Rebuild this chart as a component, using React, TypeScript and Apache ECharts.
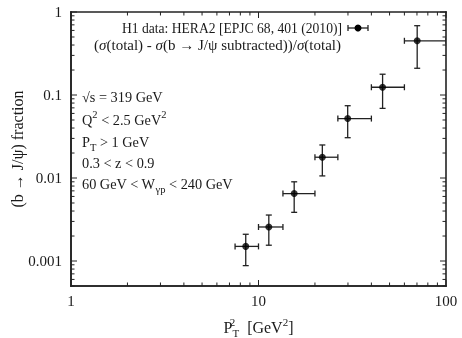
import { useEffect, useRef } from 'react';
import * as echarts from 'echarts';

// Axis ranges (log–log)
const X_MIN = 1;
const X_MAX = 100;
const Y_MIN = 0.0005;
const Y_MAX = 1;

// H1 measurement: P_T^2 bins, bin centres and fraction with its uncertainty band
const PT2_LOW = [7.5, 10, 13.5, 20, 26.5, 40, 60];
const PT2_HIGH = [10, 13.5, 20, 26.5, 40, 60, 100];
const PT2_CENTER = [8.55, 11.35, 15.5, 21.9, 29.9, 45.9, 70.2];
const FRACTION = [0.0015, 0.00257, 0.0065, 0.0178, 0.052, 0.124, 0.45];
const FRACTION_LOW = [0.00088, 0.00155, 0.00386, 0.0106, 0.0306, 0.069, 0.21];
const FRACTION_HIGH = [0.0021, 0.00358, 0.009, 0.025, 0.0743, 0.178, 0.684];

// Decades used for major / minor tick marks
const X_DECADES = [1, 10];
const Y_DECADES = [0.0001, 0.001, 0.01, 0.1];

const FONT = '"Liberation Serif", "DejaVu Serif", serif';
const INK = '#1a1a1a';
const FRAME = '#222';

function isDecade(v: number) {
  const e = Math.log10(v);
  return Math.abs(e - Math.round(e)) < 1e-6;
}

// rows: [x, y, kind (0 = x tick, 1 = y tick, 2 = frame side), major / side index]
function buildTicks() {
  const ticks: number[][] = [0, 1, 2, 3].map((s) => [X_MIN, Y_MIN, 2, s]);
  const xs: number[] = [];
  X_DECADES.forEach((d) => {
    for (let k = 1; k <= 9; k++) xs.push(+(k * d).toPrecision(6));
  });
  xs.push(X_MAX);
  xs.forEach((v) => {
    if (v >= X_MIN && v <= X_MAX) ticks.push([v, Y_MIN, 0, isDecade(v) ? 1 : 0]);
  });
  const ys: number[] = [];
  Y_DECADES.forEach((d) => {
    for (let k = 1; k <= 9; k++) ys.push(+(k * d).toPrecision(6));
  });
  ys.push(Y_MAX);
  ys.forEach((v) => {
    if (v >= Y_MIN && v <= Y_MAX) ticks.push([X_MIN, v, 1, isDecade(v) ? 1 : 0]);
  });
  return ticks;
}

const makeRich = (size: number) => ({
  m: { fontFamily: FONT, fontSize: size, lineHeight: 22, fill: INK },
  i: { fontFamily: FONT, fontSize: size, lineHeight: 22, fontStyle: 'italic', fill: INK },
  sup: { fontFamily: FONT, fontSize: 10.5, lineHeight: 10, verticalAlign: 'top', fill: INK },
  sub: { fontFamily: FONT, fontSize: 10.5, lineHeight: 10, verticalAlign: 'bottom', fill: INK },
});

const CUTS = [
  '{m|√s = 319 GeV}',
  '{m|Q}{sup|2}{m| < 2.5 GeV}{sup|2}',
  '{m|P}{sub|T}{m| > 1 GeV}',
  '{m|0.3 < z < 0.9}',
  '{m|60 GeV < W}{sub|γp}{m| < 240 GeV}',
];
const CUT_Y = [97, 120, 142, 163, 184];

export default function App() {
  const ref = useRef<HTMLDivElement>(null);

  useEffect(() => {
    const chart = echarts.init(ref.current!, null, { renderer: 'svg' });

    const points = PT2_CENTER.map((x, i) => [x, FRACTION[i]]);
    const bars = PT2_CENTER.map((x, i) => [
      x,
      FRACTION[i],
      PT2_LOW[i],
      PT2_HIGH[i],
      FRACTION_LOW[i],
      FRACTION_HIGH[i],
    ]);

    const lineStyle = { stroke: '#222', lineWidth: 1.3 };
    const cap = 3;

    const tickLabel = {
      show: true,
      fontFamily: FONT,
      fontSize: 15,
      color: INK,
      formatter: (v: number) => (isDecade(v) ? String(+v.toPrecision(1)) : ''),
    };

    const option: any = {
      animation: false,
      grid: { left: 71, right: 16, top: 12, bottom: 52, outerBoundsMode: 'none', containLabel: false },
      xAxis: {
        type: 'log',
        logBase: 10,
        min: X_MIN,
        max: X_MAX,
        axisLine: { show: true, onZero: false, lineStyle: { color: FRAME, width: 1.6 } },
        axisTick: { show: false },
        splitLine: { show: false },
        axisLabel: { ...tickLabel, margin: 7 },
        name: '{m|P}{u0|2}{s|T}{m|  [GeV}{u|2}{m|]}',
        nameLocation: 'middle',
        nameGap: 30,
        nameTextStyle: {
          fontFamily: FONT,
          fontSize: 16,
          color: INK,
          rich: {
            m: { fontFamily: FONT, fontSize: 16, lineHeight: 22, color: INK },
            u0: { fontFamily: FONT, fontSize: 11, lineHeight: 11, verticalAlign: 'top', width: 0, color: INK },
            s: { fontFamily: FONT, fontSize: 11, lineHeight: 11, verticalAlign: 'bottom', color: INK },
            u: { fontFamily: FONT, fontSize: 11, lineHeight: 11, verticalAlign: 'top', color: INK },
          },
        },
      },
      yAxis: {
        type: 'log',
        logBase: 10,
        min: Y_MIN,
        max: Y_MAX,
        axisLine: { show: true, onZero: false, lineStyle: { color: FRAME, width: 1.6 } },
        axisTick: { show: false },
        splitLine: { show: false },
        axisLabel: { ...tickLabel, margin: 9 },
        name: '(b → J/ψ) fraction',
        nameLocation: 'middle',
        nameGap: 46,
        nameMoveOverlap: false,
        nameTextStyle: { fontFamily: FONT, fontSize: 16, color: INK },
      },
      graphic: [
        ...CUTS.map((t, i) => ({
          type: 'text',
          x: 82,
          y: CUT_Y[i],
          style: { text: t, rich: makeRich(14.3), align: 'left', verticalAlign: 'middle' },
        })),
        {
          type: 'text',
          x: 342,
          y: 28,
          style: {
            text: '{m|H1 data: HERA2 [EPJC 68, 401 (2010)]}',
            rich: makeRich(13.6),
            align: 'right',
            verticalAlign: 'middle',
          },
        },
        {
          type: 'text',
          x: 341,
          y: 45,
          style: {
            text: '{m|(}{i|σ}{m|(total) - }{i|σ}{m|(b → J/ψ subtracted))/}{i|σ}{m|(total)}',
            rich: makeRich(15),
            align: 'right',
            verticalAlign: 'middle',
          },
        },
        // legend key: marker with horizontal bar
        {
          type: 'group',
          x: 358,
          y: 28,
          children: [
            { type: 'line', shape: { x1: -10, y1: 0, x2: 10, y2: 0 }, style: lineStyle },
            { type: 'line', shape: { x1: -10, y1: -cap, x2: -10, y2: cap }, style: lineStyle },
            { type: 'line', shape: { x1: 10, y1: -cap, x2: 10, y2: cap }, style: lineStyle },
            { type: 'circle', shape: { cx: 0, cy: 0, r: 3.5 }, style: { fill: '#000' } },
          ],
        },
      ],
      series: [
        {
          type: 'custom',
          name: 'frame',
          silent: true,
          clip: false,
          z: 5,
          data: buildTicks(),
          encode: { x: 0, y: 1 },
          renderItem: (_params: any, api: any) => {
            const kind = api.value(2);
            const len = api.value(3) ? 6 : 3.5;
            const st = { stroke: FRAME, lineWidth: 1 };
            if (kind === 2) {
              const tl = api.coord([X_MIN, Y_MAX]);
              const br = api.coord([X_MAX, Y_MIN]);
              const side = api.value(3);
              const seg =
                side === 0
                  ? [tl[0], tl[1], br[0], tl[1]]
                  : side === 1
                  ? [br[0], tl[1], br[0], br[1]]
                  : side === 2
                  ? [tl[0], br[1], br[0], br[1]]
                  : [tl[0], tl[1], tl[0], br[1]];
              return {
                type: 'line',
                shape: { x1: seg[0], y1: seg[1], x2: seg[2], y2: seg[3] },
                style: { stroke: FRAME, lineWidth: 1.6, lineCap: 'square' },
              };
            }
            if (kind === 0) {
              const v = api.value(0);
              const b = api.coord([v, Y_MIN]);
              const t = api.coord([v, Y_MAX]);
              return {
                type: 'group',
                children: [
                  { type: 'line', shape: { x1: b[0], y1: b[1], x2: b[0], y2: b[1] - len }, style: st },
                  { type: 'line', shape: { x1: t[0], y1: t[1], x2: t[0], y2: t[1] + len }, style: st },
                ],
              };
            }
            const v = api.value(1);
            const l = api.coord([X_MIN, v]);
            const r = api.coord([X_MAX, v]);
            return {
              type: 'group',
              children: [
                { type: 'line', shape: { x1: l[0], y1: l[1], x2: l[0] + len, y2: l[1] }, style: st },
                { type: 'line', shape: { x1: r[0], y1: r[1], x2: r[0] - len, y2: r[1] }, style: st },
              ],
            };
          },
        },
        {
          type: 'custom',
          name: 'uncertainty',
          silent: true,
          clip: true,
          data: bars,
          encode: { x: 0, y: 1 },
          renderItem: (_params: any, api: any) => {
            const x = api.value(0);
            const y = api.value(1);
            const l = api.coord([api.value(2), y]);
            const r = api.coord([api.value(3), y]);
            const lo = api.coord([x, api.value(4)]);
            const hi = api.coord([x, api.value(5)]);
            return {
              type: 'group',
              children: [
                { type: 'line', shape: { x1: l[0], y1: l[1], x2: r[0], y2: r[1] }, style: lineStyle },
                { type: 'line', shape: { x1: l[0], y1: l[1] - cap, x2: l[0], y2: l[1] + cap }, style: lineStyle },
                { type: 'line', shape: { x1: r[0], y1: r[1] - cap, x2: r[0], y2: r[1] + cap }, style: lineStyle },
                { type: 'line', shape: { x1: hi[0], y1: hi[1], x2: lo[0], y2: lo[1] }, style: lineStyle },
                { type: 'line', shape: { x1: hi[0] - cap, y1: hi[1], x2: hi[0] + cap, y2: hi[1] }, style: lineStyle },
                { type: 'line', shape: { x1: lo[0] - cap, y1: lo[1], x2: lo[0] + cap, y2: lo[1] }, style: lineStyle },
              ],
            };
          },
        },
        {
          type: 'scatter',
          name: 'H1 data',
          data: points,
          symbol: 'circle',
          symbolSize: 7,
          itemStyle: { color: '#000' },
          z: 10,
        },
      ],
    };

    chart.setOption(option);
    return () => chart.dispose();
  }, []);

  return (
    <div
      ref={ref}
      style={{ position: 'fixed', left: 0, top: 0, width: 462, height: 338 }}
    />
  );
}
